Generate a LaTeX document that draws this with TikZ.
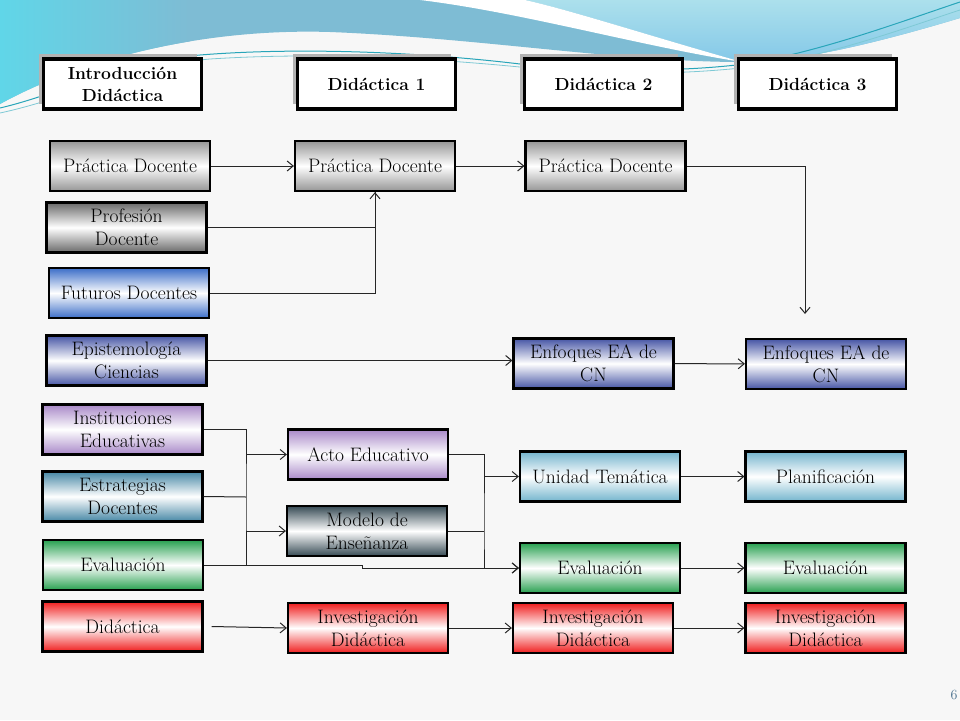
\documentclass[tikz,border=0pt]{standalone}
\usetikzlibrary{arrows.meta,shadows}

\definecolor{pdgray}{RGB}{150,150,150}
\definecolor{prgray}{RGB}{105,105,105}
\definecolor{futblue}{RGB}{60,110,200}
\definecolor{epinavy}{RGB}{70,85,165}
\definecolor{lavend}{RGB}{168,136,200}
\definecolor{steel}{RGB}{70,135,165}
\definecolor{slate}{RGB}{55,75,85}
\definecolor{lblue}{RGB}{115,180,205}
\definecolor{grn}{RGB}{40,160,80}
\definecolor{rojo}{RGB}{240,30,30}
\definecolor{pagebg}{RGB}{247,247,247}
\definecolor{wavecyan}{RGB}{96,214,232}
\definecolor{waveblue}{RGB}{126,188,212}
\definecolor{wavelight}{RGB}{172,224,236}
\definecolor{wavebowl}{RGB}{132,200,232}
\definecolor{waveline}{RGB}{40,165,185}
\definecolor{pgnum}{RGB}{70,110,140}

\tikzset{
  hdr/.style={draw=black, line width=3.5pt, fill=white, minimum width=158pt,
    minimum height=50pt, inner sep=0pt, align=center,
    font=\fontsize{17.5}{22}\selectfont\bfseries,
    general shadow={fill=black!30, shadow xshift=-5pt, shadow yshift=5pt}},
  box/.style={draw=black, line width=2.2pt, minimum width=160pt,
    minimum height=50pt, inner sep=0pt, align=center,
    font=\fontsize{19.5}{23}\selectfont},
  gbox/.style={box, top color=#1, bottom color=#1, middle color=white},
  conn/.style={line width=1pt, draw=black!85},
  >={Straight Barb[length=6pt,width=10pt]}
}

\begin{document}
\begin{tikzpicture}[x=1pt,y=-1pt]
      \useasboundingbox (0,0) rectangle (960,720);
      \fill[pagebg] (0,0) rectangle (960,720);

      % top wave
      \begin{scope}
        \clip (0,0) -- (960,0) -- (960,18) .. controls (880,42) and (800,62) .. (742,62)
          .. controls (620,62) and (480,38) .. (330,32)
          .. controls (200,28) and (80,60) .. (0,104) -- cycle;
        \fill[waveblue] (0,0) rectangle (960,120);
        \shade[left color=wavecyan, right color=waveblue] (0,0) rectangle (190,120);
        \shade[top color=wavelight, bottom color=wavebowl] (525,0)
          .. controls (570,10) and (650,36) .. (742,62) -- (960,62) -- (960,0) -- cycle;
        \fill[white] (420,0) .. controls (520,12) and (640,46) .. (742,62)
          .. controls (650,36) and (570,10) .. (525,0) -- cycle;
      \end{scope}
      \draw[waveline, line width=1pt] (0,108) .. controls (60,94) and (120,62) .. (200,55)
        .. controls (300,47) and (420,52) .. (520,64) .. controls (600,72) and (680,72) .. (745,64)
        .. controls (820,52) and (900,22) .. (960,2);
      \draw[waveline!60, line width=0.8pt] (0,113) .. controls (70,98) and (130,66) .. (210,59)
        .. controls (320,52) and (430,58) .. (530,68) .. controls (610,76) and (690,74) .. (750,67)
        .. controls (830,56) and (905,28) .. (960,10);

      % headers
      \node[hdr] (intro) at (122.5,84) {Introducción\\Didáctica};
      \node[hdr] (did1) at (376.5,84) {Didáctica 1};
      \node[hdr] (did2) at (603.5,84) {Didáctica 2};
      \node[hdr] (did3) at (817.5,84) {Didáctica 3};

      % first column
      \node[gbox=pdgray] (pd1) at (130,166) {Práctica Docente};
      \node[gbox=prgray] (prof) at (126.5,227.5) {Profesión\\Docente};
      \node[gbox=futblue] (fut) at (129,293) {Futuros Docentes};
      \node[gbox=epinavy] (epi) at (126.5,360.5) {Epistemología\\Ciencias};
      \node[gbox=lavend] (inst) at (122.5,429.5) {Instituciones\\Educativas};
      \node[gbox=steel] (estr) at (122.5,496.5) {Estrategias\\Docentes};
      \node[gbox=grn] (eval1) at (123,565) {Evaluación};
      \node[gbox=rojo] (did) at (122.5,626.5) {Didáctica};

      % second column
      \node[gbox=pdgray] (pd2) at (375,166) {Práctica Docente};
      \node[gbox=lavend] (acto) at (368,454.5) {Acto Educativo};
      \node[gbox=slate] (mod) at (367,531) {Modelo de\\Enseñanza};
      \node[gbox=rojo] (inv2) at (368,628) {Investigación\\Didáctica};

      % third column
      \node[gbox=pdgray] (pd3) at (605.5,166) {Práctica Docente};
      \node[gbox=epinavy] (enf3) at (593.5,363.5) {Enfoques EA de\\CN};
      \node[gbox=lblue] (unid) at (600,476.5) {Unidad Temática};
      \node[gbox=grn] (eval3) at (600,568) {Evaluación};
      \node[gbox=rojo] (inv3) at (593,628) {Investigación\\Didáctica};

      % fourth column
      \node[gbox=epinavy] (enf4) at (826,364) {Enfoques EA de\\CN};
      \node[gbox=lblue] (plan) at (825.5,476.5) {Planificación};
      \node[gbox=grn] (eval4) at (825.5,568) {Evaluación};
      \node[gbox=rojo] (inv4) at (825.5,628) {Investigación\\Didáctica};

      \node[text=pgnum, font=\fontsize{14}{16}\selectfont] (pg) at (954,695) {6};

      \coordinate (d3end) at (805,314);
      \coordinate (jl) at (246,497);
      \coordinate (jr) at (484,531);

      \path [->, conn] (pd1) edge (pd2);
      \path [->, conn] (pd2) edge (pd3);
      \draw [->, conn] (pd3.east) -| (d3end);
      \draw [->, conn] (prof.east) -| (pd2.south);
      \draw [conn] (fut.east) -| (pd2.south);
      \draw [->, conn] (epi.east) -- (enf3.west |- epi.east);
      \path [->, conn] (enf3) edge (enf4);

      \draw [conn] (inst.east) -| (jl) |- (eval1.east);
      \draw [conn] (estr.east) -- (jl);
      \draw [->, conn] (jl |- acto.west) -- (acto.west);
      \draw [->, conn] (jl |- mod.west) -- (mod.west);
      \draw [->, conn] (eval1.east) -- ++(158,0) |- (eval3.west);

      \draw [->, conn] (acto.east) -| (jr) |- (eval3.west);
      \draw [conn] (mod.east) -- (jr);
      \draw [->, conn] (jr |- unid.west) -- (unid.west);

      \path [->, conn] (unid) edge (plan);
      \path [->, conn] (eval3) edge (eval4);
      \draw [->, conn] ([xshift=8pt]did.east) -- (inv2.west);
      \path [->, conn] (inv2) edge (inv3);
      \path [->, conn] (inv3) edge (inv4);

      \end{tikzpicture}
\end{document}
